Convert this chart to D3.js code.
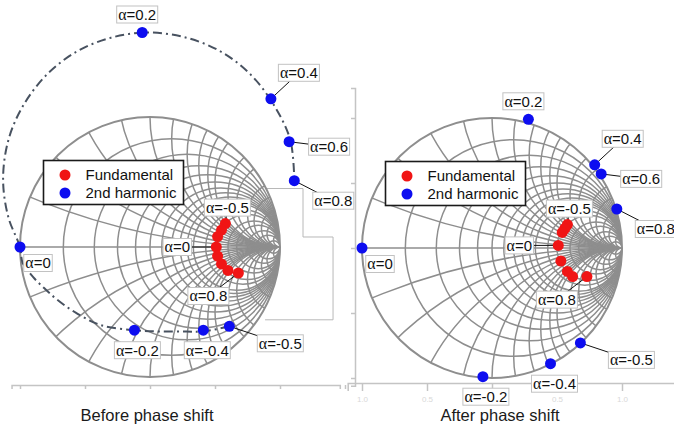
<!DOCTYPE html>
<html>
<head>
<meta charset="utf-8">
<script src="https://cdn.jsdelivr.net/npm/d3@7"></script>
<style>
body { margin: 0; background: #fff; }
svg { display: block; font-family: Arial, "Liberation Sans", sans-serif; }
</style>
</head>
<body>
<script>
// sweep values of alpha (same order in every series)
var alphas = [-0.5, -0.4, -0.2, 0, 0.2, 0.4, 0.6, 0.8];

// reflection coefficients [re, im]
var beforeFundamental = [[0.58, 0.18], [0.55, 0.13], [0.52, 0.08], [0.51, 0.00],
                         [0.52, -0.07], [0.55, -0.13], [0.60, -0.18], [0.68, -0.20]];
var beforeHarmonic = [[0.61, -0.61], [0.41, -0.64], [-0.12, -0.64], [-1.00, 0.00],
                      [-0.06, 1.65], [0.93, 1.14], [1.07, 0.81], [1.11, 0.51]];
// dash-dot trajectory of the 2nd harmonic before the shift
var beforeHarmonicTrace = [[0.61, -0.61], [0.41, -0.65], [0.28, -0.65], [0.08, -0.65],
  [-0.12, -0.64], [-0.38, -0.60], [-0.58, -0.50], [-0.72, -0.40], [-0.81, -0.32],
  [-0.90, -0.23], [-0.98, -0.12], [-1.00, 0.00], [-1.09, 0.23], [-1.13, 0.52],
  [-1.09, 0.82], [-0.98, 1.08], [-0.80, 1.32], [-0.57, 1.50], [-0.30, 1.61],
  [-0.01, 1.65], [0.28, 1.61], [0.55, 1.50], [0.78, 1.32], [0.96, 1.08],
  [1.08, 0.82], [1.11, 0.51]];
var afterFundamental = [[0.58, 0.18], [0.56, 0.15], [0.54, 0.12], [0.51, 0.02],
                        [0.53, -0.10], [0.58, -0.18], [0.62, -0.22], [0.73, -0.22]];
var afterHarmonic = [[0.68, -0.73], [0.45, -0.89], [-0.07, -0.99], [-1.00, 0.00],
                     [0.28, 0.99], [0.79, 0.64], [0.84, 0.57], [0.96, 0.30]];

var fundamentalLabelled = [-0.5, 0, 0.8];

// smith chart grid values
var resistances = [0.2, 0.4, 0.6, 0.8, 1, 1.2, 1.4, 1.6, 1.8, 2, 2.5, 3, 4, 5, 7, 10, 20];
var reactances = [0.2, 0.4, 0.6, 0.8, 1, 1.2, 1.4, 1.6, 1.8, 2, 2.5, 3, 4, 5, 7, 10, 20];

var axisTicks = [-1, -0.5, 0, 0.5, 1];
var axisTickLabels = ['1.0', '0.5', '0.0', '0.5', '1.0'];
var legendLabels = ['Fundamental', '2nd harmonic'];
var titles = ['Before phase shift', 'After phase shift'];

// ---- layout ----
var width = 674, height = 429, R = 130;
var red = '#f01515', blue = '#0d0df0', gridColor = '#8e8e8e', axisColor = '#c4c4c4';

// label box offsets from the marker: [dx, dy, leader line]
var harmonicOffsets = {'-0.5': [51, 17, true], '-0.4': [4, 20, false], '-0.2': [3, 20, false],
  '0': [18, 16, false], '0.2': [-5, -18, false], '0.4': [28, -26, true],
  '0.6': [40, 5, true], '0.8': [39, 20, true]};
var fundamentalOffsets = {'-0.5': [2, -16, true], '0': [-39, 0, true], '0.8': [-30, 23, true]};

var svg = d3.select(document.body).append('svg')
    .attr('width', width)
    .attr('height', height);

var charts = [
  {cx: 150, cy: 247, fund: beforeFundamental, harm: beforeHarmonic, trace: beforeHarmonicTrace},
  {cx: 492, cy: 248, fund: afterFundamental, harm: afterHarmonic, trace: null}
];

function drawAxes(g, x, y, i) {
  if (i == 0) {
    var xa = d3.scaleLinear().domain([-1.065, 1.46]).range([x(-1.065), x(1.46)]);
    g.append('g')
        .attr('transform', 'translate(0,' + (y(0) + 138) + ')')
        .call(d3.axisBottom(xa).tickValues(axisTicks.concat([1.5])).tickSize(4).tickFormat(''));
  } else {
    var xb = d3.scaleLinear().domain([-1.11, 1.41]).range([x(-1.11), x(1.41)]);
    var bottom = g.append('g')
        .attr('transform', 'translate(0,' + (y(0) + 135) + ')')
        .call(d3.axisBottom(xb).tickValues(axisTicks).tickSize(8)
            .tickFormat(function(d, k) { return axisTickLabels[k]; }));
    bottom.selectAll('text')
        .attr('fill', '#d8d8d8')
        .attr('font-size', 8)
        .attr('y', 13)
        .attr('dy', '0.71em');
    var ya = d3.scaleLinear().domain([-1.06, 1.23]).range([y(-1.06), y(1.23)]);
    g.append('g')
        .attr('transform', 'translate(' + (x(-1) - 7) + ',0)')
        .call(d3.axisLeft(ya).tickValues(axisTicks).tickSize(4).tickFormat(''));
  }
  g.selectAll('.domain, .tick line').attr('stroke', axisColor).attr('stroke-width', 1.5);
}

function drawSmith(g, x, y, id) {
  g.append('clipPath').attr('id', id)
    .append('circle').attr('cx', x(0)).attr('cy', y(0)).attr('r', R);
  g.append('circle')
      .attr('cx', x(0)).attr('cy', y(0)).attr('r', R)
      .attr('fill', '#fff');
  var grid = g.append('g')
      .attr('clip-path', 'url(#' + id + ')')
      .attr('fill', 'none')
      .attr('stroke', gridColor)
      .attr('stroke-width', 1.5);
  grid.selectAll('circle.res').data(resistances).enter()
    .append('circle').attr('class', 'res')
      .attr('cx', function(d) { return x(d / (1 + d)); })
      .attr('cy', y(0))
      .attr('r', function(d) { return R / (1 + d); });
  var xs = reactances.concat(reactances.map(function(d) { return -d; }));
  grid.selectAll('circle.reac').data(xs).enter()
    .append('circle').attr('class', 'reac')
      .attr('cx', x(1))
      .attr('cy', function(d) { return y(1 / d); })
      .attr('r', function(d) { return R / Math.abs(d); });
  grid.append('line')
      .attr('x1', x(-1)).attr('x2', x(1))
      .attr('y1', y(0)).attr('y2', y(0));
  g.append('circle')
      .attr('cx', x(0)).attr('cy', y(0)).attr('r', R)
      .attr('fill', 'none')
      .attr('stroke', gridColor)
      .attr('stroke-width', 2);
}

function addLabel(leaders, labels, px, py, a, off) {
  var lx = px + off[0], ly = py + off[1];
  if (off[2]) {
    leaders.append('line')
        .attr('x1', px).attr('y1', py)
        .attr('x2', lx).attr('y2', ly)
        .attr('stroke', '#111')
        .attr('stroke-width', 1);
  }
  var lg = labels.append('g').attr('transform', 'translate(' + lx + ',' + ly + ')');
  var t = lg.append('text')
      .attr('text-anchor', 'middle')
      .attr('dy', '0.36em')
      .attr('font-size', 15)
      .attr('fill', '#111');
  t.append('tspan').attr('font-family', '"Liberation Serif", serif').attr('font-size', 16).text('\u03b1');
  t.append('tspan').text('=' + String(a));
  var bb = t.node().getBBox();
  lg.insert('rect', 'text')
      .attr('x', bb.x - 1.5).attr('y', -8.5)
      .attr('width', bb.width + 3).attr('height', 17)
      .attr('fill', '#fff')
      .attr('stroke', '#c2c2c2')
      .attr('stroke-width', 1);
}

charts.forEach(function(c, i) {
  var x = d3.scaleLinear().domain([-1, 1]).range([c.cx - R, c.cx + R]);
  var y = d3.scaleLinear().domain([-1, 1]).range([c.cy + R, c.cy - R]);
  var g = svg.append('g');

  drawAxes(g.append('g'), x, y, i);

  if (i == 0) {
    // leftover frame behind the left chart
    var frame = [[0.885, 0.45], [1.177, 0.45], [1.177, 0.077], [1.408, 0.077],
                 [1.408, -0.56], [0.885, -0.56]];
    g.append('path')
        .attr('d', d3.line().x(function(d) { return x(d[0]); })
            .y(function(d) { return y(d[1]); })(frame))
        .attr('fill', 'none')
        .attr('stroke', '#b8b8b8')
        .attr('stroke-width', 1);
  }

  drawSmith(g.append('g'), x, y, 'smith' + i);

  if (c.trace) {
    g.append('path')
        .attr('d', d3.line()
            .x(function(d) { return x(d[0]); })
            .y(function(d) { return y(d[1]); })
            .curve(d3.curveCatmullRom)(c.trace))
        .attr('fill', 'none')
        .attr('stroke', '#485260')
        .attr('stroke-width', 2)
        .attr('stroke-dasharray', '9,4,2,4');
  }

  var leaders = g.append('g');
  var dots = g.append('g');
  var labels = g.append('g');

  dots.selectAll('circle.fund').data(c.fund).enter()
    .append('circle').attr('class', 'fund')
      .attr('cx', function(d) { return x(d[0]); })
      .attr('cy', function(d) { return y(d[1]); })
      .attr('r', 5.5)
      .attr('fill', red);
  dots.selectAll('circle.harm').data(c.harm).enter()
    .append('circle').attr('class', 'harm')
      .attr('cx', function(d) { return x(d[0]); })
      .attr('cy', function(d) { return y(d[1]); })
      .attr('r', 5.5)
      .attr('fill', blue);

  alphas.forEach(function(a, k) {
    var h = c.harm[k];
    addLabel(leaders, labels, x(h[0]), y(h[1]), a, harmonicOffsets[String(a)]);
    if (fundamentalLabelled.indexOf(a) >= 0) {
      var f = c.fund[k];
      addLabel(leaders, labels, x(f[0]), y(f[1]), a, fundamentalOffsets[String(a)]);
    }
  });

  // legend
  var lg = g.append('g').attr('transform', 'translate(' + (c.cx - 106.5) + ',' + (c.cy - 86.5) + ')');
  lg.append('rect')
      .attr('width', 140).attr('height', 44)
      .attr('fill', '#fff')
      .attr('stroke', '#1a1a1a')
      .attr('stroke-width', 1.6);
  legendLabels.forEach(function(name, k) {
    lg.append('circle')
        .attr('cx', 21.5).attr('cy', 14.5 + k * 18).attr('r', 5.5)
        .attr('fill', k == 0 ? red : blue);
    lg.append('text')
        .attr('x', 42).attr('y', 14.5 + k * 18).attr('dy', '0.36em')
        .attr('font-size', 15)
        .attr('fill', '#111')
        .text(name);
  });

  svg.append('text')
      .attr('x', c.cx - 3 + i * 11).attr('y', 421)
      .attr('text-anchor', 'middle')
      .attr('font-size', 16.5)
      .attr('fill', '#1a1a1a')
      .text(titles[i]);
});
</script>
</body>
</html>
